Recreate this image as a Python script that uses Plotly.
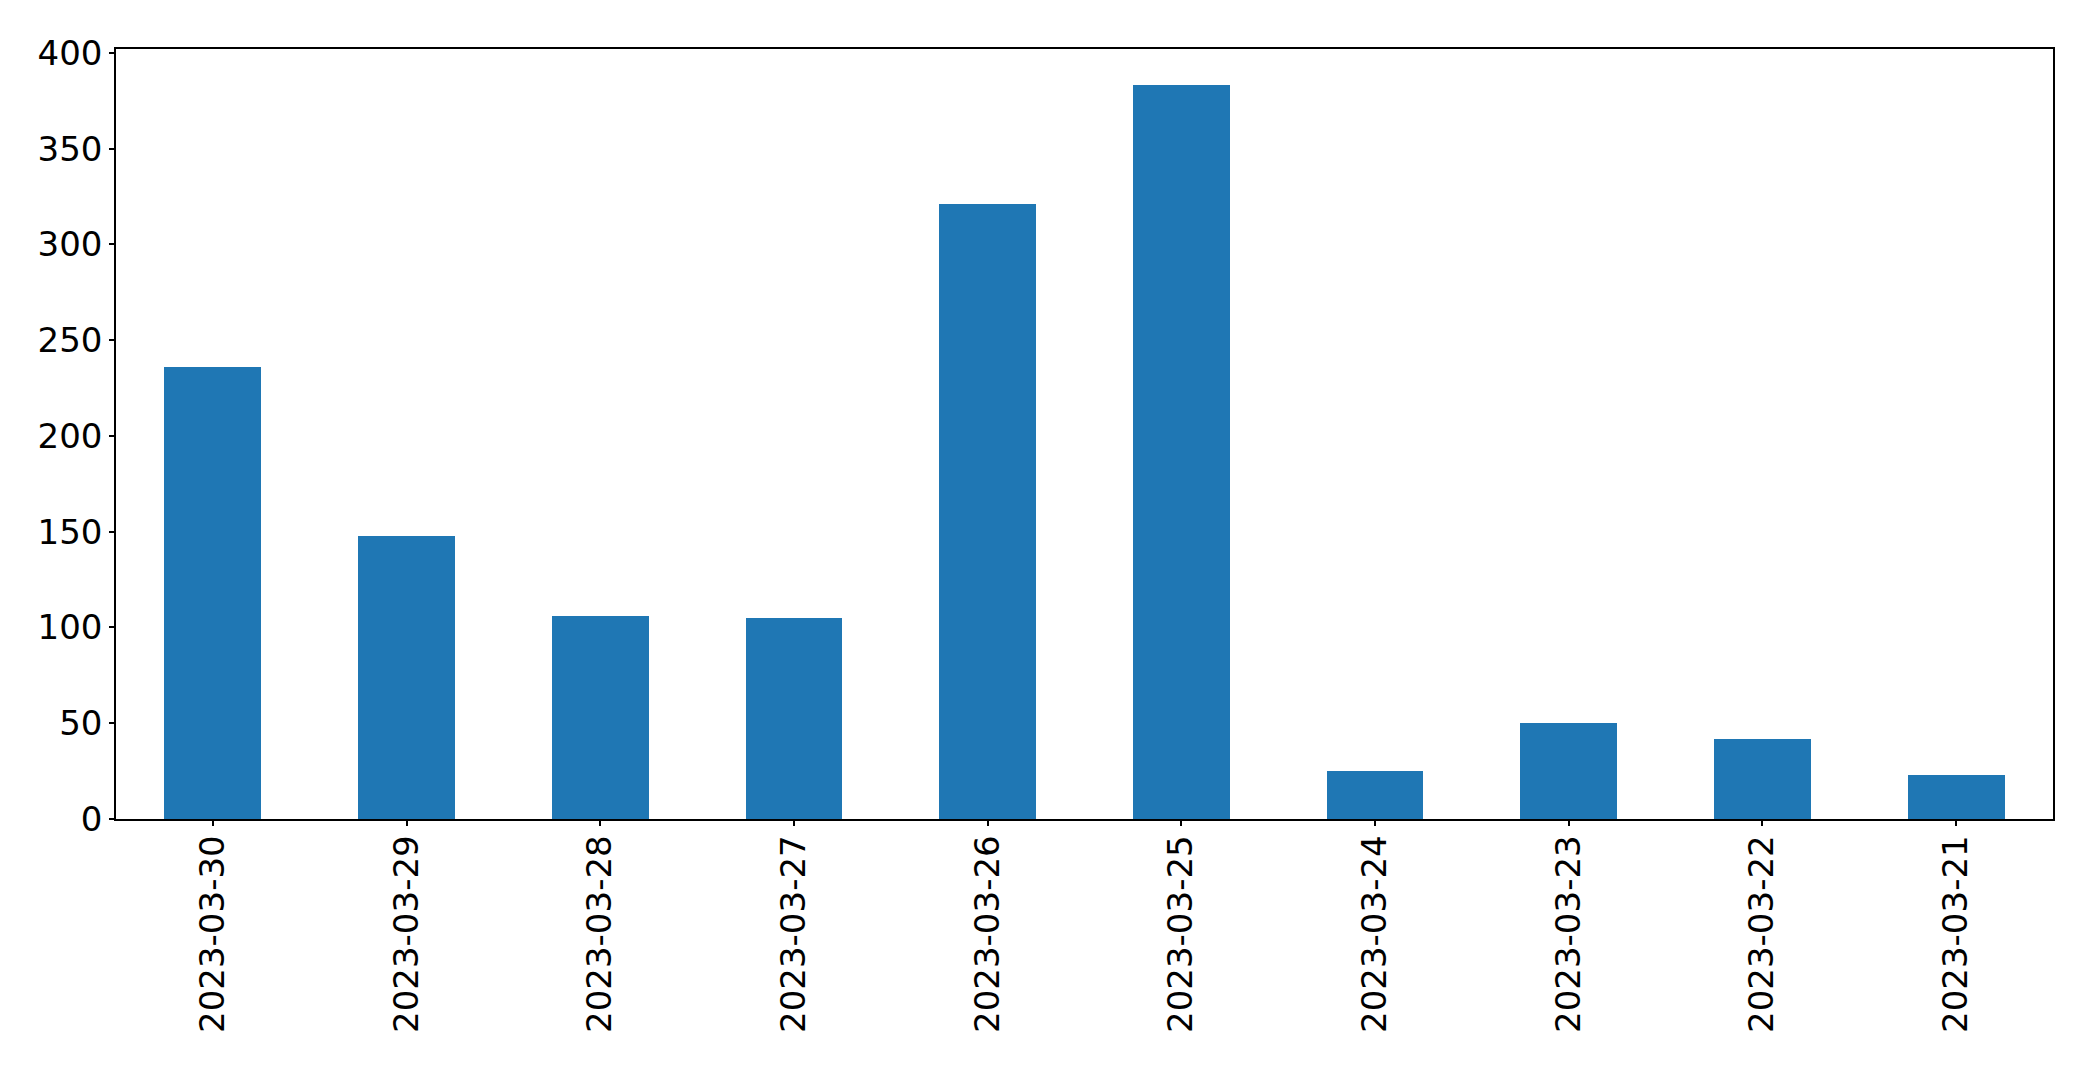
import plotly.graph_objects as go

dates = ["2023-03-30", "2023-03-29", "2023-03-28", "2023-03-27", "2023-03-26",
         "2023-03-25", "2023-03-24", "2023-03-23", "2023-03-22", "2023-03-21"]
counts = [236, 148, 106, 105, 321, 383, 25, 50, 42, 23]
y_ticks = [0, 50, 100, 150, 200, 250, 300, 350, 400]

fig = go.Figure(go.Bar(x=dates, y=counts, width=0.5, marker_color="#1f77b4",
                       marker_line_width=0))

fig.update_layout(
    width=2093, height=1071,
    margin=dict(l=116, r=40, t=49, b=252),
    plot_bgcolor="white", paper_bgcolor="white",
    font=dict(family="DejaVu Sans", size=34, color="black"),
    showlegend=False, bargap=0,
)
fig.update_xaxes(type="category", range=[-0.5, 9.5], tickangle=-90,
                 showline=True, mirror=True, linecolor="black", linewidth=1.5,
                 ticks="outside", ticklen=5, tickwidth=1.5, tickcolor="black",
                 showgrid=False, ticklabelstandoff=-4)
fig.update_yaxes(range=[0, 402], tickvals=y_ticks,
                 showline=True, mirror=True, linecolor="black", linewidth=1.5,
                 ticks="outside", ticklen=5, tickwidth=1.5, tickcolor="black",
                 showgrid=False, zeroline=False, ticklabelstandoff=0)

fig.write_html("out.html")
